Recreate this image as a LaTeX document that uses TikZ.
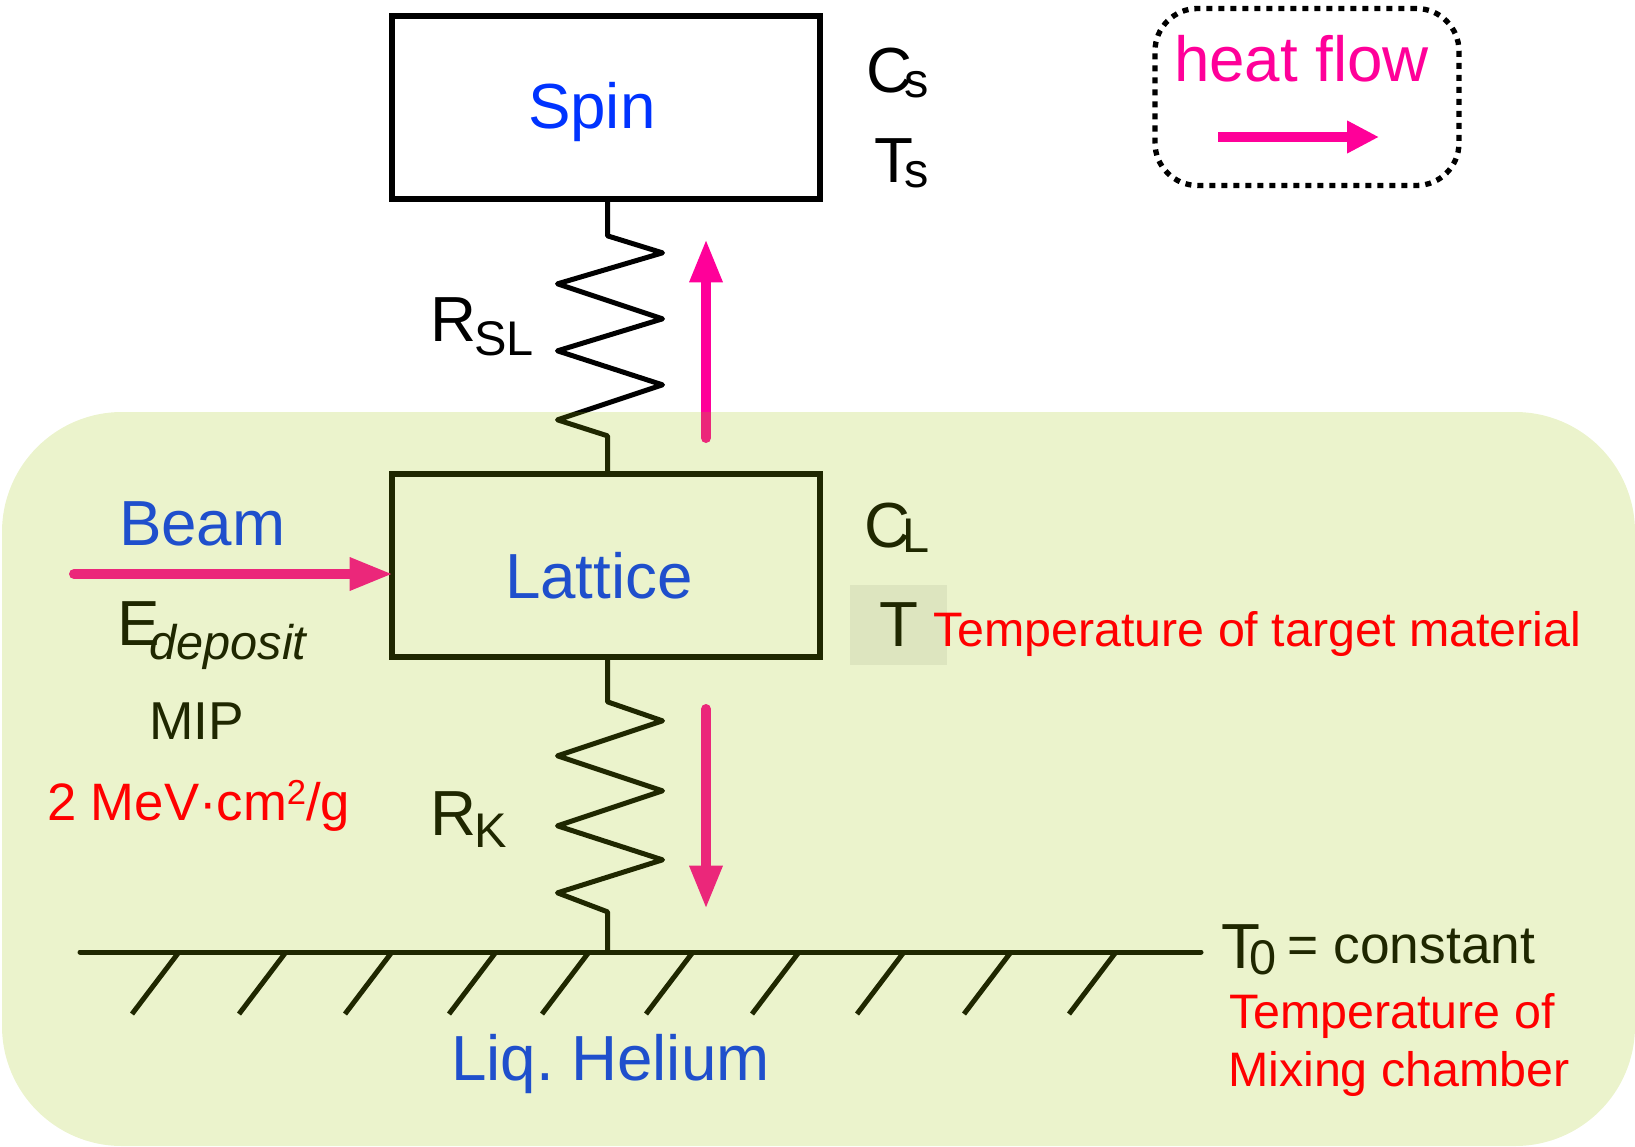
\documentclass[tikz,border=0pt]{standalone}
\usepackage{xcolor}
\usepackage{fontspec}
\usetikzlibrary{arrows.meta, positioning, calc}
\setmainfont{Liberation Sans}
\definecolor{myblue}{RGB}{0,51,255}
\definecolor{mypink}{RGB}{255,0,153}
\definecolor{myred}{RGB}{255,0,0}
\definecolor{mygreen}{RGB}{155,195,0}
\definecolor{mygrey}{RGB}{238,238,239}
\newcommand{\lowtext}[3][0pt]{\kern#1\raisebox{#2}{\fontsize{36.5}{40}\selectfont #3}}
\tikzset{
  box/.style={rectangle, draw=black, line width=4.2pt, minimum width=321pt,
    minimum height=137pt, inner sep=0pt, outer sep=0pt},
  bigtext/.style={inner sep=0pt, outer sep=0pt, anchor=base west, text=black,
    font=\fontsize{47.8}{50}\selectfont},
  bluetext/.style={bigtext, text=myblue},
  midtext/.style={bigtext, font=\fontsize{40}{44}\selectfont},
  redtext/.style={bigtext, text=myred, font=\fontsize{36.3}{40}\selectfont},
  wire/.style={draw=black, line width=3.75pt, line join=round, line cap=round},
  flow/.style={-{Triangle[length=32.5pt, width=23pt]}, mypink, line width=7.5pt, line cap=round},
  hatch/.style={wire, line cap=butt}
}
\begin{document}
\begin{tikzpicture}[x=0.75pt, y=-0.75pt]
  \useasboundingbox (0,0) rectangle (1635,1146);

  \node[box] (spin) at (606,107.5) {};
  \node[box] (lattice) at (606,565.5) {};
  \node[rectangle, fill=mygrey, minimum width=72.75pt, minimum height=60pt, inner sep=0pt,
    font=\fontsize{47.8}{50}\selectfont] (tbox) at (898.5,625) {T};

  % labels of the two boxes
  \node[bluetext] (spinlabel) at (528,128) {Spin};
  \node[bluetext] (latticelabel) at (505,598) {Lattice};
  \node[bigtext] (cs) at (866,92) {C\lowtext[-6pt]{-3.75pt}{s}};
  \node[bigtext] (ts) at (874,182) {T\lowtext[-6pt]{-3.75pt}{s}};
  \node[bigtext] (cl) at (864,547) {C\lowtext[-6pt]{-3.75pt}{L}};

  % resistors
  \coordinate (spinlead) at ($(spin.south)+(1.5,0)$);
  \coordinate (latticetop) at ($(lattice.north)+(1.5,0)$);
  \coordinate (latticelead) at ($(lattice.south)+(1.5,0)$);
  \draw[wire] (spinlead) -- ++(0,37) -- ++(55,17) -- ++(-105,31) -- ++(105,35) -- ++(-105,32)
    -- ++(105,34) -- ++(-105,35) -- ++(50,16) -- (latticetop);
  \coordinate (gndleft) at (80,952);
  \coordinate (gndright) at (1201,952);
  \coordinate (gndmid) at (latticelead |- gndleft);
  \draw[wire] (latticelead) -- ++(0,45) -- ++(55,19) -- ++(-105,35) -- ++(105,35) -- ++(-105,35)
    -- ++(105,34) -- ++(-105,33) -- ++(50,19) -- (gndmid);
  \node[bigtext] (rsl) at (430,341) {R\lowtext[-1.5pt]{-10.5pt}{SL}};
  \node[bigtext] (rk) at (430,835) {R\lowtext[-1.5pt]{-9pt}{K}};

  % heat flow arrows
  \coordinate (uptail) at (706,438);
  \coordinate (uptip) at (706,239);
  \draw[flow] (uptail) -- (uptip);
  \coordinate (downtail) at (706,709);
  \coordinate (downtip) at (706,909);
  \draw[flow] (downtail) -- (downtip);
  \coordinate (beamtail) at (74,574);
  \draw[flow] (beamtail) -- ($(beamtail -| lattice.west)+(1,0)$);

  % ground
  \draw[wire] (gndleft) -- (gndright);
  \foreach \x in {179,286,392,496,589,693,799,904,1011,1116}
    \draw[hatch] (\x,952) -- ++(-47,62);

  % beam side
  \node[bluetext] (beam) at (119,545) {Beam};
  \node[bigtext] (edep) at (117,645) {E\lowtext[-7.5pt]{-10.5pt}{\itshape deposit}};
  \node[midtext] (mip) at (149,739) {MIP};
  \node[bluetext] (helium) at (451,1080) {Liq.\ Helium};
  \node[bigtext] (tzero) at (1221,968) {T\lowtext[-7.5pt]{-4.5pt}{0}\kern8pt\raisebox{3.75pt}{\fontsize{40}{44}\selectfont = constant}};

  % liquid helium region
  \fill[mygreen, fill opacity=0.2, rounded corners=90pt] (2,412) rectangle (1635,1146);

  % legend
  \node[rectangle, draw=black, line width=4pt, dash pattern=on 4.5pt off 4.5pt,
    rounded corners=32pt, minimum width=228pt, minimum height=132.75pt, inner sep=0pt] (legend) at (1307,97) {};
  \node[bigtext, text=mypink] (heatflow) at (1174,81) {heat flow};
  \coordinate (legendtail) at (1218,137);
  \coordinate (legendtip) at (1379,137);
  \draw[-{Triangle[length=24pt, width=23pt]}, mypink, line width=7.5pt] (legendtail) -- (legendtip);

  % red notes
  \node[redtext] (ttarget) at (933,646) {Temperature of target material};
  \node[redtext, font=\fontsize{39.5}{44}\selectfont] (mev) at (47,820) {2 MeV{\textperiodcentered}cm\raisebox{12pt}{\fontsize{26}{30}\selectfont 2}/g};
  \node[redtext] (tmix1) at (1229,1028) {Temperature of};
  \node[redtext] (tmix2) at (1228,1086) {Mixing chamber};
\end{tikzpicture}
\end{document}
